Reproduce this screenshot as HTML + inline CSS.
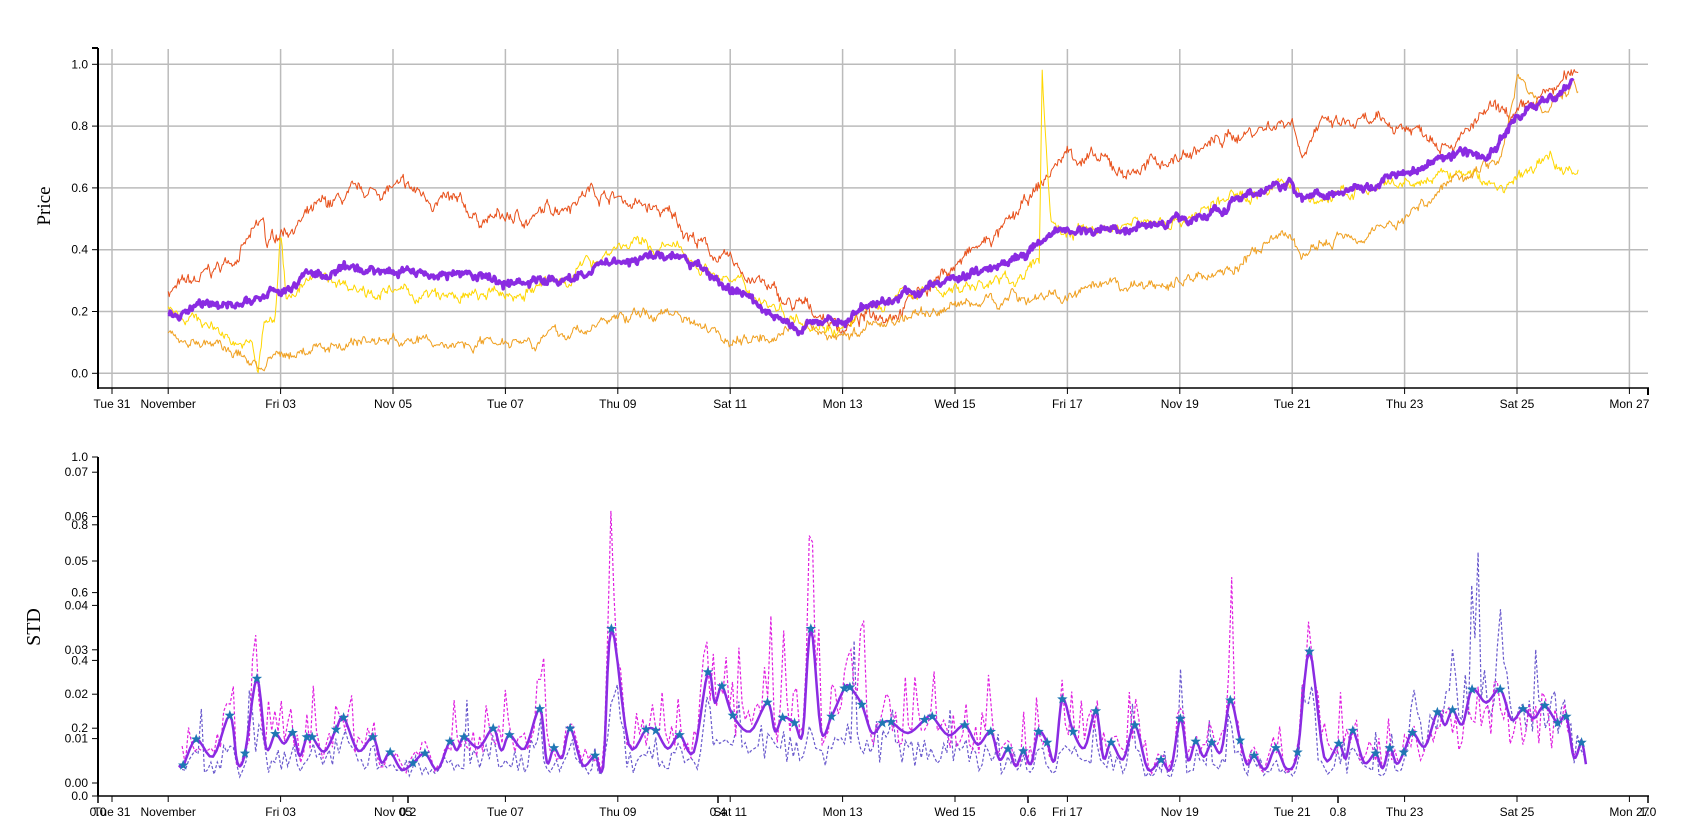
<!DOCTYPE html>
<html><head><meta charset="utf-8"><style>
body{margin:0;background:#fff}
svg{display:block}
text{font-family:"Liberation Sans",sans-serif;font-size:12px;fill:#000}
</style></head><body>
<svg id="s" width="1691" height="837" xmlns="http://www.w3.org/2000/svg"></svg>
<script>
var S=document.getElementById('s');var out='';
var seed=7;function rnd(){seed=(seed*16807)%2147483647;return (seed-1)/2147483646;}
function X(d){return 112+56.2*d;}
function PY(v){return 373.3-v*309;}
var days=['Tue 31','November','Fri 03','Nov 05','Tue 07','Thu 09','Sat 11','Mon 13','Wed 15','Fri 17','Nov 19','Tue 21','Thu 23','Sat 25','Mon 27'];
var dd=[0,1,3,5,7,9,11,13,15,17,19,21,23,25,27];
for(var i=0;i<dd.length;i++){var x=X(dd[i]);out+='<line x1="'+x+'" y1="49" x2="'+x+'" y2="388" stroke="#bbb" stroke-width="1.5"/>';}
for(var v=0;v<=5;v++){var y=PY(v*0.2);out+='<line x1="98" y1="'+y+'" x2="1648" y2="'+y+'" stroke="#bbb" stroke-width="1.5"/><line x1="92" y1="'+y+'" x2="98" y2="'+y+'" stroke="#000"/><text x="88" y="'+(y+4)+'" text-anchor="end">'+(v*0.2).toFixed(1)+'</text>';}
out+='<line x1="98" y1="48" x2="98" y2="389" stroke="#000" stroke-width="2"/><line x1="92" y1="48" x2="98" y2="48" stroke="#000" stroke-width="2"/>';
out+='<line x1="98" y1="388" x2="1649" y2="388" stroke="#000" stroke-width="1.5"/><line x1="1648" y1="388" x2="1648" y2="395" stroke="#000" stroke-width="2"/>';
for(var i=0;i<dd.length;i++){var x=X(dd[i]);out+='<line x1="'+x+'" y1="388" x2="'+x+'" y2="394" stroke="#000"/><text x="'+x+'" y="408" text-anchor="middle">'+days[i]+'</text>';}
out+='<text x="50" y="206" transform="rotate(-90 50 206)" text-anchor="middle" style="font-family:\'Liberation Serif\',serif;font-size:19px">Price</text>';
function series(kp,col,w,amp,jit){
  var pts=[];var n=0;var k=0;
  for(var x=X(kp[0][0]);x<=X(kp[kp.length-1][0]);x+=1){
    var d=(x-112)/56.2;while(k<kp.length-2&&d>kp[k+1][0])k++;
    var t=(d-kp[k][0])/(kp[k+1][0]-kp[k][0]);t=Math.max(0,Math.min(1,t));
    var v=kp[k][1]+(kp[k+1][1]-kp[k][1])*t;
    n=n*0.9+(rnd()-0.5)*amp;
    pts.push(x.toFixed(1)+','+PY(v+n+(rnd()-0.5)*jit).toFixed(1));
  }
  out+='<polyline points="'+pts.join(' ')+'" fill="none" stroke="'+col+'" stroke-width="'+w+'" stroke-linejoin="round"/>';
}
series([[1,0.27],[1.5,0.29],[2,0.35],[2.7,0.48],[2.75,0.4],[3,0.46],[3.4,0.5],[4,0.55],[5,0.6],[6,0.55],[6.5,0.5],[7.5,0.5],[8.5,0.6],[9,0.57],[10,0.5],[10.8,0.37],[11.5,0.3],[12,0.22],[12.5,0.2],[13,0.15],[14,0.22],[15,0.35],[16,0.48],[17,0.72],[18,0.65],[19,0.7],[20,0.77],[21,0.83],[21.15,0.72],[21.4,0.8],[22,0.8],[23,0.8],[24,0.76],[24.5,0.84],[25,0.82],[26.1,0.98]],'#e8501a',1,0.026,0.02);
series([[1,0.22],[1.8,0.15],[2.5,0.08],[2.6,0.0],[2.7,0.15],[2.9,0.17],[3.0,0.45],[3.1,0.25],[3.5,0.3],[4,0.3],[5,0.26],[6,0.24],[7,0.25],[8,0.3],[9,0.42],[10,0.4],[11,0.3],[12,0.2],[13,0.15],[14,0.25],[15,0.28],[16,0.3],[16.5,0.35],[16.55,0.98],[16.7,0.5],[17,0.45],[18,0.48],[19,0.5],[20,0.57],[21,0.62],[21.15,0.55],[22,0.58],[23,0.6],[24,0.65],[24.7,0.6],[25,0.62],[25.6,0.7],[26.1,0.65]],'#ffd700',1,0.024,0.016);
series([[1,0.13],[2,0.08],[2.7,0.02],[3,0.05],[4,0.1],[5,0.11],[6,0.09],[7,0.12],[8,0.12],[9,0.18],[10,0.2],[10.8,0.15],[11,0.1],[12,0.15],[13,0.12],[14,0.18],[15,0.22],[16,0.25],[17,0.25],[18,0.27],[19,0.3],[20,0.35],[21,0.45],[21.15,0.38],[22,0.45],[23,0.5],[24,0.65],[24.7,0.7],[25,0.95],[25.5,0.85],[26,0.93],[26.1,0.88]],'#f0a020',1,0.022,0.014);
series([[1,0.2],[2,0.22],[3,0.26],[3.5,0.32],[4,0.32],[5,0.34],[6,0.32],[7,0.3],[8,0.3],[9,0.37],[10,0.38],[10.8,0.3],[11.5,0.22],[12.2,0.14],[13,0.18],[14,0.25],[15,0.3],[16,0.38],[17,0.46],[18,0.47],[19,0.5],[20,0.55],[21,0.62],[21.15,0.57],[22,0.6],[23,0.65],[24,0.72],[24.5,0.7],[25,0.83],[26,0.93]],'#8a2be2',3.5,0.016,0.016);
out+='<line x1="98" y1="457" x2="98" y2="796" stroke="#000" stroke-width="2"/><line x1="98" y1="796" x2="1649" y2="796" stroke="#000" stroke-width="1.5"/>';
for(var i=0;i<=7;i++){var y=783-i*44.4;out+='<line x1="92" y1="'+y+'" x2="98" y2="'+y+'" stroke="#000"/><text x="88" y="'+(y+4)+'" text-anchor="end">'+(i*0.01).toFixed(2)+'</text>';}
for(var i=0;i<=5;i++){var y=796-i*67.8;out+='<line x1="92" y1="'+y+'" x2="98" y2="'+y+'" stroke="#000"/><text x="88" y="'+(y+4)+'" text-anchor="end">'+(i*0.2).toFixed(1)+'</text>';
 var x=98+i*310;out+='<line x1="'+x+'" y1="796" x2="'+x+'" y2="803" stroke="#000" stroke-width="1.5"/><text x="'+x+'" y="816" text-anchor="middle">'+(i*0.2).toFixed(1)+'</text>';}
for(var i=0;i<dd.length;i++){var x=X(dd[i]);out+='<line x1="'+x+'" y1="796" x2="'+x+'" y2="802" stroke="#000"/><text x="'+x+'" y="816" text-anchor="middle">'+days[i]+'</text>';}
out+='<text x="40" y="627" transform="rotate(-90 40 627)" text-anchor="middle" style="font-family:\'Liberation Serif\',serif;font-size:20px">STD</text>';
var st=[[169,706],[181,682],[212,660],[226,695],[237,626],[254,677],[270,676],[283,680],[288,680],[310,673],[317,662],[344,680],[360,694],[381,704],[392,695],[415,684],[428,680],[455,672],[470,678],[498,654],[511,690],[526,672],[549,697],[564,580],[596,673],[605,674],[627,678],[653,620],[666,633],[676,660],[708,648],[722,662],[733,667],[748,580],[767,661],[779,635],[784,634],[795,650],[814,667],[822,666],[853,664],[860,661],[890,669],[914,675],[930,691],[944,693],[958,675],[966,685],[980,645],[990,675],[1011,656],[1025,685],[1047,669],[1071,701],[1089,663],[1103,684],[1118,685],[1135,646],[1144,683],[1157,697],[1177,690],[1197,694],[1208,601],[1235,686],[1248,674],[1269,695],[1282,690],[1295,694],[1303,676],[1326,657],[1340,655],[1358,636],[1384,636],[1405,654],[1425,651],[1437,667],[1445,661],[1459,685]];
var K=1.084;var P=[];
P.push([165,706]);
for(var i=0;i<st.length;i++){P.push(st[i]);if(i<st.length-1){var a=st[i],b=st[i+1];if(b[0]-a[0]>12){P.push([(a[0]+b[0])/2,Math.min(710,Math.max(a[1],b[1])+8+rnd()*10)]);}}}
P.push([1463,705]);
var SM=[];
for(var i=0;i<P.length-1;i++){var p0=P[Math.max(0,i-1)],p1=P[i],p2=P[i+1],p3=P[Math.min(P.length-1,i+2)];
 for(var t=0;t<1;t+=0.2){var t2=t*t,t3=t2*t;
  var x=0.5*((2*p1[0])+(-p0[0]+p2[0])*t+(2*p0[0]-5*p1[0]+4*p2[0]-p3[0])*t2+(-p0[0]+3*p1[0]-3*p2[0]+p3[0])*t3);
  var y=0.5*((2*p1[1])+(-p0[1]+p2[1])*t+(2*p0[1]-5*p1[1]+4*p2[1]-p3[1])*t2+(-p0[1]+3*p1[1]-3*p2[1]+p3[1])*t3);
  y=Math.min(y,712);
  SM.push([x*K,y*K]);}}
SM.push([1463*K,705*K]);
function solidAt(x){for(var i=1;i<SM.length;i++){if(SM[i][0]>=x){var a=SM[i-1],b=SM[i];var t=(x-a[0])/((b[0]-a[0])||1);return a[1]+(b[1]-a[1])*t;}}return SM[SM.length-1][1];}
function peak(xd,c,top){var d=Math.abs(xd-c);if(d<6)return (783-top*K)*(1-d/7);return -1;}
var mg=[],bl=[];
for(var x=168*K;x<=1462*K;x+=3.2){var y=solidAt(x);var h=783-y;
 var xd=x/K;
 var fm=0.7+rnd()*0.8;if(rnd()<0.12)fm=1.6+rnd()*1.0;
 if(xd>1300)fm=0.5+rnd()*0.7;
 var hm=h*fm;
 var p1=peak(xd,564,455),p2=peak(xd,748,437),p3=peak(xd,1208,552);
 if(p1>0)hm=Math.max(p1,h);if(p2>0)hm=Math.max(p2,h);if(p3>0)hm=Math.max(p3,h);
 mg.push(x.toFixed(1)+','+(783-hm).toFixed(1));
 var fb=0.3+rnd()*0.6;if(rnd()<0.08)fb=1.1+rnd()*0.8;
 if(xd>1300){fb=0.7+rnd()*0.9;if(rnd()<0.2)fb=1.6+rnd()*1.0;}
 bl.push(x.toFixed(1)+','+(783-h*fb).toFixed(1));}
out+='<polyline points="'+bl.join(' ')+'" fill="none" stroke="#6a5acd" stroke-width="1.2" stroke-dasharray="3,2"/>';
out+='<polyline points="'+mg.join(' ')+'" fill="none" stroke="#e020e0" stroke-width="1.2" stroke-dasharray="3,2"/>';
out+='<polyline points="'+SM.map(function(p){return p[0].toFixed(1)+','+p[1].toFixed(1)}).join(' ')+'" fill="none" stroke="#8a2be2" stroke-width="2.5" stroke-linejoin="round"/>';
function star(cx,cy,r){var s='';for(var i=0;i<10;i++){var a=-Math.PI/2+i*Math.PI/5;var rr=i%2?r*0.42:r;s+=(cx+rr*Math.cos(a)).toFixed(1)+','+(cy+rr*Math.sin(a)).toFixed(1)+' ';}return '<polygon points="'+s+'" fill="#1f77b4"/>';}
for(var i=0;i<st.length;i++)out+=star(st[i][0]*K,st[i][1]*K,5.5);
S.innerHTML=out;
</script>
</body></html>
